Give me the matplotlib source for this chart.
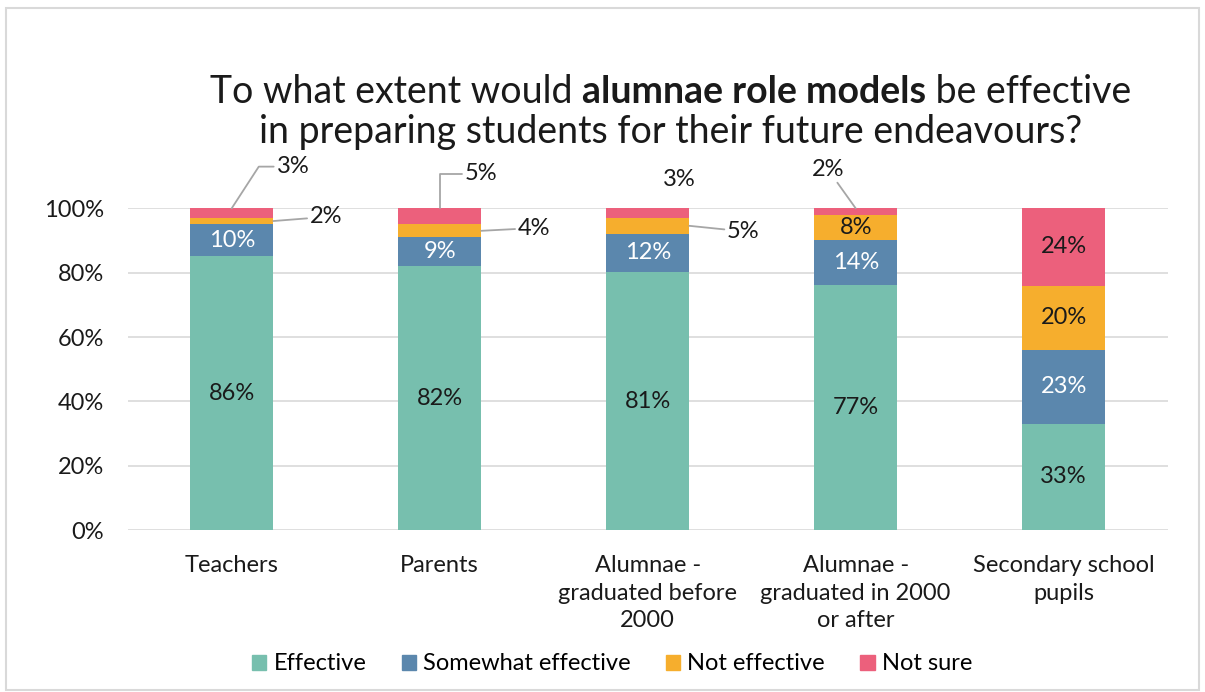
import matplotlib.pyplot as plt
import numpy as np
from matplotlib.patches import Rectangle

plt.rcParams['font.family'] = ['Lato', 'DejaVu Sans']

groups = ['Teachers', 'Parents', 'Alumnae -\ngraduated before\n2000',
          'Alumnae -\ngraduated in 2000\nor after', 'Secondary school\npupils']
series = ['Effective', 'Somewhat effective', 'Not effective', 'Not sure']
effective = [86, 82, 81, 77, 33]
somewhat = [10, 9, 12, 14, 23]
not_effective = [2, 4, 5, 8, 20]
not_sure = [3, 5, 3, 2, 24]

colors = ['#77BFAE', '#5B87AD', '#F6AE2D', '#EC607C']
inside_txt = ['#1a1a1a', 'white', '#1a1a1a', '#1a1a1a']
fs = 17

# labels that sit outside the bar: (group, series) -> offset in points, leader style
outside = {
    (0, 3): ((44, 30), 'angle,angleA=0,angleB=57'),
    (0, 2): ((38, 3), 'arc3'),
    (1, 3): ((30, 25), 'angle,angleA=0,angleB=90'),
    (1, 2): ((38, 2), 'arc3'),
    (2, 3): ((23, 21), None),
    (2, 2): ((39, -4), 'arc3'),
    (3, 3): ((-20, 28), 'arc3'),
}

data = np.array([effective, somewhat, not_effective, not_sure], dtype=float)
shares = data / data.sum(axis=0) * 100

fig = plt.figure(figsize=(12.05, 6.92), dpi=100)
ax = fig.add_axes([0.106, 0.234, 0.863, 0.465])

x = np.arange(len(groups))
w = 0.4
bottom = np.zeros(len(groups))
for s in range(len(series)):
    ax.bar(x, shares[s], w, bottom=bottom, color=colors[s], label=series[s], zorder=3)
    for i in range(len(groups)):
        lab = '{:.0f}%'.format(data[s, i])
        mid = bottom[i] + shares[s, i] / 2
        if (i, s) in outside:
            off, conn = outside[(i, s)]
            if s == 3:
                anchor = (x[i], bottom[i] + shares[s, i])
            else:
                anchor = (x[i] + w / 2, mid)
            ap = None
            if conn:
                ap = dict(arrowstyle='-', color='#a6a6a6', lw=1.3, connectionstyle=conn,
                          shrinkA=0, shrinkB=0)
            ax.annotate(lab, xy=anchor, xytext=off, textcoords='offset points',
                        ha='center', va='center', fontsize=fs, color='#1a1a1a',
                        arrowprops=ap, zorder=4)
        else:
            ax.text(x[i], mid, lab, ha='center', va='center', fontsize=fs,
                    color=inside_txt[s], zorder=4)
    bottom += shares[s]

ax.set_xlim(-0.5, len(groups) - 0.5)
ax.set_ylim(0, 100)
ax.set_yticks(np.arange(0, 101, 20))
ax.set_yticklabels(['{}%'.format(v) for v in range(0, 101, 20)])
ax.set_xticks(x)
ax.set_xticklabels(groups, linespacing=1.38)
ax.tick_params(axis='both', length=0, labelsize=fs, colors='#1a1a1a')
ax.tick_params(axis='x', pad=18)
ax.tick_params(axis='y', pad=17)
ax.grid(axis='y', color='#d9d9d9', lw=1.2, zorder=0)
for sp in ax.spines.values():
    sp.set_visible(False)

# title with a bold middle part, centred line by line
fig.canvas.draw()
r = fig.canvas.get_renderer()
parts = [('To what extent would ', 'normal'), ('alumnae role models', 'bold'), (' be effective', 'normal')]
texts = [fig.text(0, 0, p, fontsize=27, fontweight=fw, color='#1a1a1a', va='center') for p, fw in parts]
widths = [t.get_window_extent(r).width for t in texts]
start = 671 - sum(widths) / 2
for t, wd in zip(texts, widths):
    t.set_position((start / 1205, 1 - 92 / 692))
    start += wd
fig.text(671 / 1205, 1 - 132 / 692, 'in preparing students for their future endeavours?',
         fontsize=27, color='#1a1a1a', ha='center', va='center')

handles = [Rectangle((0, 0), 1, 1, color=c) for c in colors]
fig.legend(handles, series, loc='center', bbox_to_anchor=(0.508, 1 - 664 / 692), ncol=4,
           frameon=False, fontsize=fs, handlelength=0.6, handleheight=0.6,
           handletextpad=0.3, columnspacing=1.5)

fig.patches.append(Rectangle((6 / 1205, 2 / 692), 1193 / 1205, 682 / 692, transform=fig.transFigure,
                             fill=False, edgecolor='#d9d9d9', lw=1.5))

fig.savefig('out.png', dpi=100)
